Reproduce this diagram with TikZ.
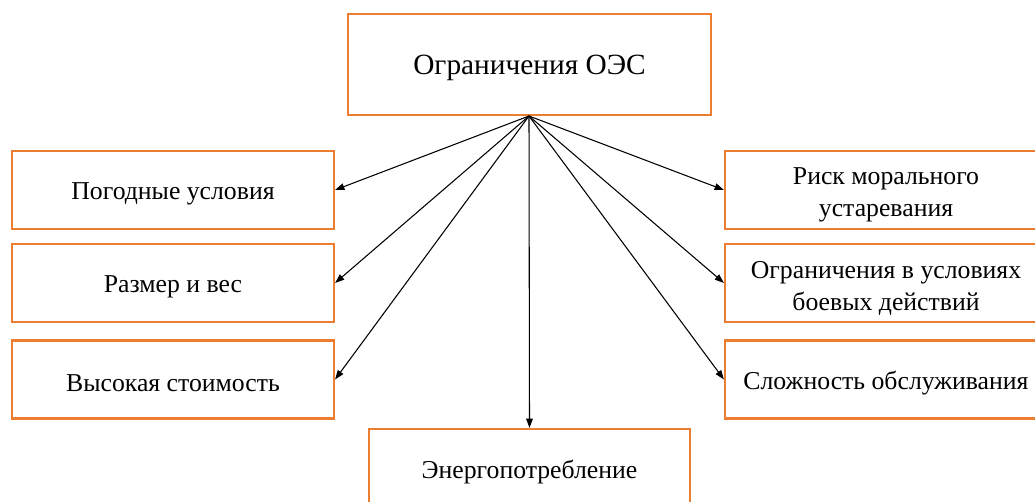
\documentclass[tikz,border=0pt]{standalone}
\usepackage{fontspec}
\setmainfont{Liberation Serif}
\usetikzlibrary{arrows.meta}
\definecolor{boxorange}{RGB}{237,125,49}
\begin{document}
\begin{tikzpicture}[x=0.75pt,y=-0.75pt,
  box/.style={draw=boxorange,line width=1.6pt,fill=white,minimum width=322*0.75pt,minimum height=78*0.75pt,inner sep=0pt},
  txt/.style={inner sep=0pt,align=center,font=\fontsize{19.3}{24}\selectfont},
  conn/.style={-{Triangle[length=7pt,width=5pt]},line width=0.8pt,black}]
\useasboundingbox (0,0) rectangle (1035,502);
\node[box,minimum width=363*0.75pt,minimum height=101*0.75pt] (top) at (529.5,64.5) {};
\node[box] (l1) at (173,190) {};
\node[box] (l2) at (173,283) {};
\node[box] (l3) at (173,379.5) {};
\node[box] (r1) at (886,190) {};
\node[box] (r2) at (886,283) {};
\node[box] (r3) at (886,379.5) {};
\node[box,minimum width=321*0.75pt] (bot) at (529.5,468) {};
\node[txt,font=\fontsize{22}{26}\selectfont] (topt) at ([yshift=-3.5*0.75pt]top.center) {Ограничения ОЭС};
\node[txt] (l1t) at ([yshift=-4*0.75pt]l1.center) {Погодные условия};
\node[txt] (l2t) at ([yshift=-4*0.75pt]l2.center) {Размер и вес};
\node[txt] (l3t) at ([yshift=-4*0.75pt]l3.center) {Высокая стоимость};
\node[txt] (r1t) at ([yshift=-5*0.75pt]r1.center) {Риск морального\\устаревания};
\node[txt] (r2t) at ([yshift=-5*0.75pt]r2.center) {Ограничения в условиях\\боевых действий};
\node[txt] (r3t) at ([yshift=-4*0.75pt]r3.center) {Сложность обслуживания};
\node[txt] (bott) at ([yshift=-4*0.75pt]bot.center) {Энергопотребление};
\coordinate (src) at (529,116);
\foreach \t in {l1,l2,l3}{\draw[conn] (src) -- (\t.east);}
\foreach \t in {r1,r2,r3}{\draw[conn] (src) -- (\t.west);}
\draw[conn] (src) -- (bot.north);
\end{tikzpicture}
\end{document}
